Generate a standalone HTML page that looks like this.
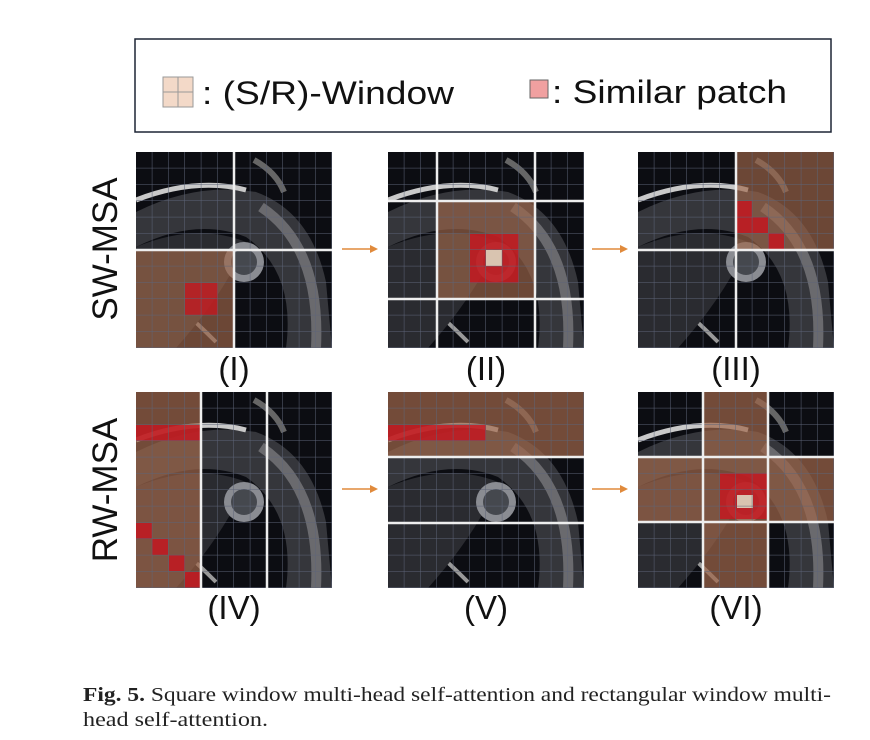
<!DOCTYPE html>
<html><head><meta charset="utf-8"><style>
body{margin:0;background:#fff;width:870px;height:740px;overflow:hidden;font-family:"Liberation Sans",sans-serif}
svg{position:absolute;left:0;top:0}
</style></head><body>
<svg width="870" height="740" viewBox="0 0 870 740" xmlns="http://www.w3.org/2000/svg">
<defs>
<symbol id="mri" viewBox="0 0 196 196">
<rect width="196" height="196" fill="#0c0d12"/>
<path d="M0 60 Q60 30 120 40 Q175 60 190 130 L196 196 L150 196 Q160 120 110 85 Q60 65 0 95 Z" fill="#35363b"/>
<path d="M0 48 Q60 25 110 38" stroke="#c9c9c9" stroke-width="5" fill="none"/>
<path d="M125 55 Q185 95 180 196" stroke="#6a6a6e" stroke-width="10" fill="none"/>
<path d="M0 120 Q40 150 80 190" stroke="#999" stroke-width="4" fill="none"/>
<path d="M0 95 Q60 70 110 90 Q90 140 40 196 L0 196 Z" fill="#2a2b30"/>
<circle cx="108" cy="110" r="20" fill="#8a8c92"/>
<circle cx="108" cy="110" r="13" fill="#45484e"/>
<path d="M118 8 Q140 20 148 40" stroke="#666" stroke-width="6" fill="none"/>
</symbol>
<pattern id="grid" width="16.333" height="16.333" patternUnits="userSpaceOnUse">
<path d="M16.333 0V16.333H0" fill="none" stroke="#5d6478" stroke-width="1"/>
</pattern>
</defs>

<!-- legend -->
<rect x="135" y="39" width="696" height="93" fill="#fff" stroke="#1d2535" stroke-width="1.5"/>
<rect x="163" y="77" width="30" height="30" fill="#f3d9c8" stroke="#999" stroke-width="1"/>
<path d="M178 77V107M163 92H193" stroke="#999" stroke-width="1"/>
<text x="202" y="104" font-size="32" fill="#111" textLength="252" lengthAdjust="spacingAndGlyphs">: (S/R)-Window</text>
<rect x="530" y="80" width="18" height="18" fill="#f0a0a0" stroke="#666" stroke-width="1"/>
<text x="552" y="103" font-size="32" fill="#111" textLength="235" lengthAdjust="spacingAndGlyphs">: Similar patch</text>

<!-- row labels -->
<text transform="translate(117,249) rotate(-90)" text-anchor="middle" font-size="35" fill="#111">SW-MSA</text>
<text transform="translate(117,490) rotate(-90)" text-anchor="middle" font-size="35" fill="#111">RW-MSA</text>

<!-- Panel I -->
<g transform="translate(136,152)">
<use href="#mri" width="196" height="196"/>
<rect x="0" y="98" width="98" height="98" fill="#a0674a" opacity="0.65"/>
<rect x="49" y="131" width="33" height="32" fill="#c8141e" opacity="0.75"/>
<rect width="196" height="196" fill="url(#grid)"/>
<path d="M98 0V196M0 98H196" stroke="#eee" stroke-width="2.5"/>
</g>
<!-- Panel II -->
<g transform="translate(388,152)">
<use href="#mri" width="196" height="196"/>
<rect x="49" y="49" width="98" height="98" fill="#a0674a" opacity="0.65"/>
<rect x="82" y="82" width="49" height="49" fill="#c8141e" opacity="0.8"/>
<rect x="98" y="98" width="16" height="16" fill="#d9c4b0"/>
<rect width="196" height="196" fill="url(#grid)"/>
<path d="M49 0V196M147 0V196M0 49H196M0 147H196" stroke="#eee" stroke-width="2.5"/>
</g>
<!-- Panel III -->
<g transform="translate(638,152)">
<use href="#mri" width="196" height="196"/>
<rect x="98" y="0" width="98" height="98" fill="#a0674a" opacity="0.65"/>
<g fill="#c8141e" opacity="0.8">
<rect x="98" y="49" width="16" height="16"/><rect x="114" y="65" width="16" height="16"/><rect x="130" y="81" width="16" height="17"/><rect x="98" y="65" width="16" height="16"/>
</g>
<rect width="196" height="196" fill="url(#grid)"/>
<path d="M98 0V196M0 98H196" stroke="#eee" stroke-width="2.5"/>
</g>
<!-- Panel IV -->
<g transform="translate(136,392)">
<use href="#mri" width="196" height="196"/>
<rect x="0" y="0" width="65" height="196" fill="#a0674a" opacity="0.7"/>
<g fill="#c8141e" opacity="0.8">
<rect x="0" y="33" width="65" height="16"/>
<rect x="0" y="131" width="16" height="16"/><rect x="16" y="147" width="16" height="16"/><rect x="33" y="163" width="16" height="16"/><rect x="49" y="180" width="16" height="16"/>
</g>
<rect width="196" height="196" fill="url(#grid)"/>
<path d="M65 0V196M131 0V196" stroke="#eee" stroke-width="2.5"/>
</g>
<!-- Panel V -->
<g transform="translate(388,392)">
<use href="#mri" width="196" height="196"/>
<rect x="0" y="0" width="196" height="65" fill="#a0674a" opacity="0.7"/>
<rect x="0" y="33" width="98" height="16" fill="#c8141e" opacity="0.8"/>
<rect width="196" height="196" fill="url(#grid)"/>
<path d="M0 65H196M0 131H196" stroke="#eee" stroke-width="2.5"/>
</g>
<!-- Panel VI -->
<g transform="translate(638,392)">
<use href="#mri" width="196" height="196"/>
<rect x="65" y="0" width="65" height="196" fill="#a0674a" opacity="0.7"/>
<rect x="0" y="65" width="65" height="65" fill="#a0674a" opacity="0.7"/>
<rect x="130" y="65" width="66" height="65" fill="#a0674a" opacity="0.7"/>
<rect x="82" y="81" width="47" height="46" fill="#c8141e" opacity="0.8"/>
<rect x="99" y="103" width="16" height="13" fill="#d9c4b0"/>
<rect width="196" height="196" fill="url(#grid)"/>
<path d="M65 0V196M130 0V196M0 65H196M0 130H196" stroke="#eee" stroke-width="2.5"/>
</g>

<!-- arrows -->
<g stroke="#e08a3c" stroke-width="1.5" fill="#e08a3c">
<path d="M342 249H371"/><path d="M378 249L370 245V253Z" stroke="none"/>
<path d="M592 249H621"/><path d="M628 249L620 245V253Z" stroke="none"/>
<path d="M342 489H371"/><path d="M378 489L370 485V493Z" stroke="none"/>
<path d="M592 489H621"/><path d="M628 489L620 485V493Z" stroke="none"/>
</g>

<!-- panel labels -->
<g font-size="33" text-anchor="middle" fill="#111">
<text x="234" y="380">(I)</text>
<text x="486" y="380">(II)</text>
<text x="736" y="380">(III)</text>
<text x="234" y="619">(IV)</text>
<text x="486" y="619">(V)</text>
<text x="736" y="619">(VI)</text>
</g>

<!-- caption -->
<g font-family="Liberation Serif, serif" font-size="20" fill="#222">
<text x="83" y="701" textLength="748" lengthAdjust="spacingAndGlyphs"><tspan font-weight="bold">Fig. 5.</tspan>  Square window multi-head self-attention and rectangular window multi-</text>
<text x="83" y="726" textLength="185" lengthAdjust="spacingAndGlyphs">head self-attention.</text>
</g>
</svg>
</body></html>
